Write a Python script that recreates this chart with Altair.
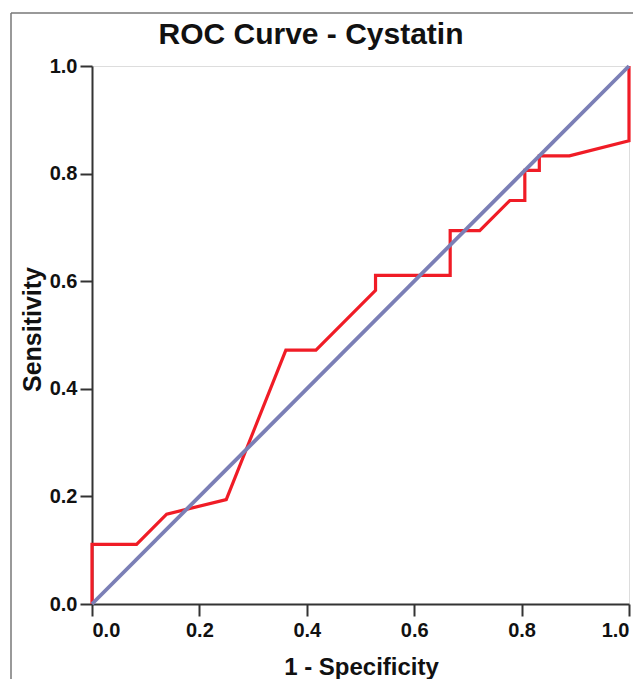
import altair as alt
import pandas as pd

# ROC curve points (1 - specificity, sensitivity)
fpr = [0.0, 0.0, 0.083, 0.139, 0.250, 0.361, 0.417, 0.528, 0.528, 0.667,
       0.667, 0.722, 0.778, 0.806, 0.806, 0.833, 0.833, 0.889, 1.0, 1.0]
tpr = [0.0, 0.111, 0.111, 0.167, 0.194, 0.472, 0.472, 0.583, 0.611, 0.611,
       0.694, 0.694, 0.750, 0.750, 0.806, 0.806, 0.833, 0.833, 0.861, 1.0]

# reference diagonal
ref_x = [0.0, 1.0]
ref_y = [0.0, 1.0]

ticks = [0.0, 0.2, 0.4, 0.6, 0.8, 1.0]
title_text = ["ROC Curve - Cystatin"]

FONT = "Liberation Sans"

roc = pd.DataFrame({"x": fpr, "y": tpr, "o": list(range(len(fpr)))})
ref = pd.DataFrame({"x": ref_x, "y": ref_y, "o": [0, 1]})

xscale = alt.Scale(domain=[0, 1], nice=False, zero=False)
yscale = alt.Scale(domain=[0, 1], nice=False, zero=False)

xaxis = alt.Axis(
    values=ticks, format=".1f", title="1 - Specificity", grid=False,
    domainColor="#333333", domainWidth=2, tickColor="#333333", tickWidth=2,
    tickSize=12, labelPadding=4, labelFont=FONT, labelFontSize=20,
    labelFontWeight="bold", labelColor="#111111",
    titleFont=FONT, titleFontSize=24, titleFontWeight="bold", titleColor="#111111",
    titleBaseline="alphabetic", titleY=70, titleX=269,
)
yaxis = alt.Axis(
    values=ticks, format=".1f", title="Sensitivity", grid=False,
    domainColor="#333333", domainWidth=2, tickColor="#333333", tickWidth=2,
    tickSize=12, labelPadding=3, labelFont=FONT, labelFontSize=20,
    labelFontWeight="bold", labelColor="#111111",
    titleFont=FONT, titleFontSize=25, titleFontWeight="bold", titleColor="#111111",
    titleBaseline="alphabetic", titleX=-52, titleY=263, titleAngle=270,
)

one = pd.DataFrame({"a": [0]})

frame_top = alt.Chart(one).mark_rule(color="#777777", strokeWidth=1.5).encode(
    x=alt.value(-81), x2=alt.value(545), y=alt.value(-53)
)
frame_left = alt.Chart(one).mark_rule(color="#777777", strokeWidth=1.5).encode(
    x=alt.value(-81), y=alt.value(-53), y2=alt.value(625)
)

title = alt.Chart(pd.DataFrame({"t": title_text})).mark_text(
    font=FONT, fontSize=30, fontWeight="bold", color="#111111",
    align="center", baseline="alphabetic",
).encode(
    text="t:N", x=alt.value(219), y=alt.value(-22)
)

roc_line = alt.Chart(roc).mark_line(color="#f01c26", strokeWidth=3.2).encode(
    x=alt.X("x:Q", scale=xscale, axis=xaxis),
    y=alt.Y("y:Q", scale=yscale, axis=yaxis),
    order="o:Q",
)

ref_line = alt.Chart(ref).mark_line(color="#7b7fb6", strokeWidth=3.8).encode(
    x=alt.X("x:Q", scale=xscale),
    y=alt.Y("y:Q", scale=yscale),
    order="o:Q",
)

chart = alt.layer(frame_top, frame_left, title, roc_line, ref_line).properties(
    width=537,
    height=538,
    autosize=alt.AutoSizeParams(type="none"),
    padding={"left": 84, "top": 58, "right": 4, "bottom": 75},
).configure_view(
    stroke="#555555", strokeWidth=2
).configure(background="white")

chart.save("out.html", embed_options={"renderer": "svg", "actions": False})
